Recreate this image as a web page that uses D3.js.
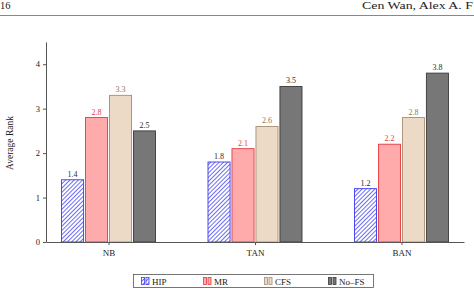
<!DOCTYPE html>
<html>
<head>
<meta charset="utf-8">
<script src="https://cdn.jsdelivr.net/npm/d3@7"></script>
<style>
  html, body { margin: 0; padding: 0; background: #fff; }
  svg text { font-family: "Liberation Serif", "DejaVu Serif", serif; }
</style>
</head>
<body>
<svg id="chart" width="474" height="292"></svg>
<script>
// data
const categories = ["NB", "TAN", "BAN"];
const seriesNames = ["HIP", "MR", "CFS", "No–FS"];
const hipValues = [1.4, 1.8, 1.2];
const mrValues = [2.8, 2.1, 2.2];
const cfsValues = [3.3, 2.6, 2.8];
const noFsValues = [2.5, 3.5, 3.8];
const yTicks = [0, 1, 2, 3, 4];

const seriesValues = [hipValues, mrValues, cfsValues, noFsValues];
const styles = [
  { fill: "url(#hatch)", stroke: "#3a3aee", label: "#2b2b3a" },
  { fill: "#ffabab", stroke: "#e8383c", label: "#e8383c" },
  { fill: "#ecd9c6", stroke: "#a88c70", label: "#8a7862" },
  { fill: "#777777", stroke: "#3a3a3a", label: "#2b2b2b" }
];

const svg = d3.select("#chart");
const margin = { top: 42, right: 10, bottom: 50, left: 46 };
const width = 474 - margin.left - margin.right;
const height = 292 - margin.top - margin.bottom;

// hatch pattern for HIP
const defs = svg.append("defs");
const pat = defs.append("pattern")
  .attr("id", "hatch")
  .attr("patternUnits", "userSpaceOnUse")
  .attr("width", 3).attr("height", 3)
  .attr("patternTransform", "rotate(45)");
pat.append("rect").attr("width", 3).attr("height", 3).attr("fill", "#fff");
pat.append("line")
  .attr("x1", 0).attr("y1", 0).attr("x2", 0).attr("y2", 3)
  .attr("stroke", "#4646f2").attr("stroke-width", 1.6);

// running header
svg.append("text").attr("x", 0).attr("y", 8.5)
  .attr("font-size", 10.5).attr("fill", "#222").text("16");
svg.append("text").attr("x", 362).attr("y", 8.5)
  .attr("textLength", 111).attr("lengthAdjust", "spacingAndGlyphs")
  .attr("font-size", 10.5).attr("fill", "#222").text("Cen Wan, Alex A. F");
svg.append("line").attr("x1", 0).attr("x2", 474).attr("y1", 15.5).attr("y2", 15.5)
  .attr("stroke", "#888").attr("stroke-width", 1);

const g = svg.append("g").attr("transform", `translate(${margin.left},${margin.top})`);

const x = d3.scalePoint().domain(categories).range([0, width]).padding(0.427);
const xs = d3.scaleBand().domain(seriesNames).range([-47, 47]).paddingInner(0.08);
const y = d3.scaleLinear().domain([0, 4.5]).range([height, 0]);

// bars
seriesNames.forEach((name, si) => {
  const st = styles[si];
  const vals = seriesValues[si];
  const grp = g.append("g");
  grp.selectAll("rect")
    .data(vals)
    .join("rect")
    .attr("x", (d, i) => x(categories[i]) + xs(name))
    .attr("y", d => y(d))
    .attr("width", xs.bandwidth())
    .attr("height", d => y(0) - y(d))
    .attr("fill", st.fill)
    .attr("stroke", st.stroke)
    .attr("stroke-width", 0.9);
  grp.selectAll("text")
    .data(vals)
    .join("text")
    .attr("x", (d, i) => x(categories[i]) + xs(name) + xs.bandwidth() / 2)
    .attr("y", d => y(d) - 3)
    .attr("text-anchor", "middle")
    .attr("font-size", 8)
    .attr("fill", st.label)
    .text(d => d.toFixed(1));
});

// axes
const yAxis = g.append("g")
  .call(d3.axisLeft(y).tickValues(yTicks).tickSize(3).tickSizeOuter(0).tickFormat(d3.format("d")));
yAxis.select(".domain").attr("stroke", "#555");
yAxis.selectAll(".tick line").attr("stroke", "#555");
yAxis.selectAll(".tick text").attr("font-size", 8.5).attr("fill", "#222")
  .attr("font-family", "Liberation Serif");

const xAxis = g.append("g").attr("transform", `translate(0,${height})`)
  .call(d3.axisBottom(x).tickSize(3).tickSizeOuter(0).tickPadding(5));
xAxis.select(".domain").attr("stroke", "#555");
xAxis.selectAll(".tick line").attr("stroke", "#555");
xAxis.selectAll(".tick text").attr("font-size", 9).attr("fill", "#222")
  .attr("font-family", "Liberation Serif");

// y label
svg.append("text")
  .attr("transform", "translate(13,143) rotate(-90)")
  .attr("text-anchor", "middle")
  .attr("font-size", 9.5).attr("fill", "#222")
  .text("Average Rank");

// legend
const legend = svg.append("g");
legend.append("rect")
  .attr("x", 133.5).attr("y", 274.5).attr("width", 240).attr("height", 13)
  .attr("fill", "#fff").attr("stroke", "#555").attr("stroke-width", 0.8);
const legendX = [141, 203, 264, 328];
seriesNames.forEach((name, si) => {
  const st = styles[si];
  const lg = legend.append("g").attr("transform", `translate(${legendX[si]},277)`);
  [0, 4.5].forEach(dx => {
    lg.append("rect").attr("x", dx + 0.5).attr("y", 0.5).attr("width", 3).attr("height", 7)
      .attr("fill", st.fill).attr("stroke", st.stroke).attr("stroke-width", 0.8);
  });
  lg.append("text").attr("x", 11).attr("y", 7.5)
    .attr("font-size", 9).attr("fill", "#222").text(name);
});
</script>
</body>
</html>
